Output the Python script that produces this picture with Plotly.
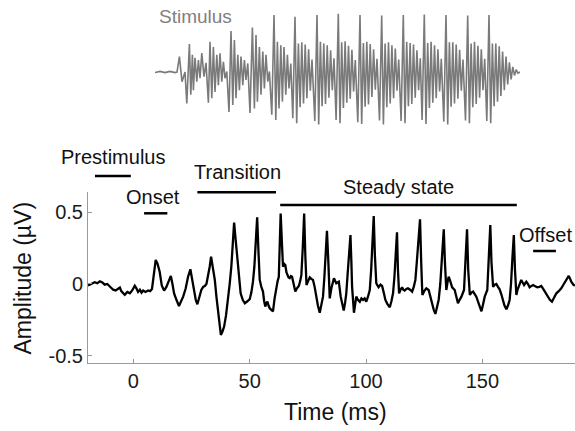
import plotly.graph_objects as go

# ---- Evoked response (grand average), time in ms, amplitude in microvolts ----
resp_t = [
    -19.5, -18.0, -16.6, -15.5, -14.4, -13.3, -12.3, -11.2, -10.1, -9.4, -8.7, -7.6, -6.6, -5.8,
    -5.2, -4.4, -3.7, -2.6, -1.5, -0.5, 0.6, 1.3, 2.0, 2.8, 3.5, 4.2, 5.2, 6.3, 7.2, 8.0, 8.8,
    9.6, 10.4, 11.3, 12.2, 13.2, 14.2, 15.2, 16.1, 16.8, 17.5, 18.5, 19.6, 20.5, 21.4, 22.5,
    23.5, 24.5, 25.3, 26.1, 26.8, 27.5, 28.3, 29.2, 30.0, 30.7, 31.4, 32.1, 32.8, 33.4, 34.2,
    35.0, 35.7, 36.4, 37.0, 37.6, 38.3, 39.0, 39.8, 40.7, 41.4, 42.1, 42.7, 43.3, 44.0, 44.7,
    45.4, 46.1, 47.0, 47.9, 49.0, 50.0, 50.7, 51.4, 52.0, 52.6, 53.2, 53.7, 54.3, 55.0, 55.7,
    56.2, 56.7, 57.2, 57.6, 58.1, 58.6, 59.3, 60.0, 60.7, 61.5, 62.0, 62.5, 62.9, 63.3, 63.8,
    64.3, 64.8, 65.3, 65.8, 66.2, 66.7, 67.2, 67.7, 68.2, 68.9, 69.6, 70.3, 71.1, 71.7, 72.2,
    72.8, 73.4, 73.9, 74.4, 75.1, 75.8, 76.5, 77.2, 77.9, 78.6, 79.3, 80.1, 80.8, 81.5, 82.1,
    82.6, 83.2, 83.8, 84.4, 85.1, 85.8, 86.2, 87.2, 88.3, 89.1, 89.8, 90.4, 91.0, 91.5, 92.0,
    92.6, 93.3, 93.7, 94.0, 94.8, 95.3, 95.8, 96.5, 97.3, 98.0, 98.7, 99.4, 100.1, 100.8,
    101.6, 102.2, 102.7, 103.3, 103.8, 104.4, 104.9, 105.4, 106.2, 106.9, 107.6, 108.3, 109.2,
    110.2, 110.9, 111.6, 112.2, 112.8, 113.3, 113.7, 114.2, 114.8, 115.5, 116.0, 116.6, 117.3,
    118.0, 118.9, 119.8, 120.5, 121.2, 121.8, 122.5, 123.2, 123.7, 124.2, 125.0, 125.9, 126.9,
    127.6, 128.4, 129.1, 129.8, 130.5, 131.2, 131.9, 132.6, 133.4, 133.9, 134.5, 135.0, 135.5,
    136.2, 137.0, 138.1, 138.8, 139.5, 140.2, 141.0, 142.1, 142.7, 143.4, 143.9, 144.6, 145.3,
    146.0, 146.7, 147.4, 148.5, 149.6, 150.3, 151.0, 152.1, 152.7, 153.4, 153.9, 154.6, 155.3,
    156.0, 156.7, 157.4, 158.1, 158.8, 159.5, 160.3, 161.0, 161.7, 162.3, 162.9, 163.5, 164.0,
    164.6, 165.1, 165.6, 166.2, 166.7, 167.3, 167.9, 168.4, 168.9, 169.6, 170.3, 171.0, 171.8,
    172.7, 173.6, 174.5, 175.3, 176.0, 176.8, 177.5, 178.2, 179.0, 179.9, 180.8, 181.8, 182.8,
    183.9, 185.0, 186.1, 186.6, 187.1, 187.6, 188.2, 189.2, 189.8,
]
resp_uv = [
    -0.010, 0.000, 0.012, 0.005, 0.018, 0.010, -0.005, 0.000, -0.020, -0.025, -0.040, -0.045, -0.035, -0.025,
    -0.050, -0.060, -0.075, -0.055, -0.065, -0.045, -0.012, -0.030, -0.055, -0.040, -0.060, -0.045, -0.055, -0.045, -0.050, -0.035, 0.060,
    0.167, 0.140, 0.085, -0.010, -0.046, -0.020, 0.020, 0.056, 0.000, -0.065, -0.110, -0.153, -0.120, -0.088, -0.030,
    0.050, 0.102, 0.030, -0.042, -0.110, -0.141, -0.100, -0.042, -0.020, -0.014, 0.000, 0.050, 0.120, 0.190, 0.120,
    0.028, -0.090, -0.200, -0.300, -0.354, -0.330, -0.296, -0.220, -0.111, 0.000, 0.120, 0.280, 0.426, 0.300, 0.167,
    0.040, -0.065, -0.110, -0.134, -0.120, -0.106, -0.060, 0.016, 0.120, 0.300, 0.463, 0.250, 0.028, -0.020, -0.053,
    -0.120, -0.157, -0.130, -0.123, -0.150, -0.169, -0.180, -0.190, -0.100, -0.007, 0.020, 0.050, 0.250, 0.490, 0.300,
    0.120, 0.140, 0.132, 0.080, 0.056, 0.045, 0.040, 0.055, 0.050, 0.000, -0.053, -0.030, -0.014, 0.020, 0.063,
    0.250, 0.490, 0.200, -0.007, 0.020, 0.046, 0.035, 0.028, -0.020, -0.088, -0.150, -0.200, -0.150, -0.088, 0.050,
    0.200, 0.370, 0.150, -0.100, -0.030, 0.028, 0.040, 0.005, 0.016, -0.088, -0.150, -0.185, -0.130, -0.065, 0.050,
    0.180, 0.340, 0.150, -0.020, -0.200, -0.130, -0.088, -0.110, -0.123, -0.100, -0.111, -0.100, -0.123, -0.090,
    -0.042, 0.100, 0.300, 0.472, 0.200, 0.005, -0.010, -0.023, -0.005, -0.014, -0.060, -0.111, -0.140,
    -0.162, -0.120, -0.065, 0.050, 0.200, 0.359, 0.100, -0.065, -0.040, -0.023, -0.040, -0.046, -0.035,
    -0.030, -0.040, -0.053, -0.020, 0.028, 0.150, 0.300, 0.449, 0.150, -0.076, -0.050, -0.030, -0.042,
    -0.090, -0.134, -0.180, -0.208, -0.160, -0.111, 0.000, 0.200, 0.380, 0.150, -0.042, 0.010, 0.050,
    0.020, -0.023, -0.042, -0.090, -0.134, -0.110, -0.088, -0.042, 0.150, 0.380, 0.100, -0.076, -0.060,
    -0.053, -0.070, -0.088, -0.140, -0.190, -0.140, -0.088, -0.042, 0.200, 0.410, 0.150, -0.020, -0.005,
    0.000, -0.020, -0.037, -0.070, -0.111, -0.150, -0.176, -0.150, -0.111, 0.000, 0.180, 0.340, 0.100,
    -0.076, -0.040, -0.020, 0.010, 0.028, 0.010, -0.007, 0.005, 0.016, 0.000, -0.023, -0.015, -0.007,
    -0.015, -0.023, -0.020, -0.014, -0.030, -0.053, -0.070, -0.088, -0.110, -0.123, -0.100, -0.065, -0.050,
    -0.030, 0.000, 0.033, 0.045, 0.056, 0.040, 0.016, -0.007, -0.010,
]

# ---- Stimulus waveform (normalised pressure), time in ms from stimulus onset ----
stim_t = [
    -12.0, -9.5, -7.0, -4.5, -2.0, -1.0, 0.2, 1.5, 3.0, 3.9, 5.2, 5.9, 6.7, 7.2, 8.0, 8.9, 9.7,
    10.5, 11.4, 12.5, 13.5, 14.7, 15.5, 16.4, 17.2, 18.0, 18.9, 19.7, 20.5, 21.4, 22.2, 23.0,
    23.9, 25.0, 26.0, 26.9, 27.7, 28.5, 29.4, 30.2, 31.0, 31.9, 32.7, 33.5, 34.4, 35.5, 36.7,
    37.7, 38.5, 39.2, 40.2, 41.0, 41.9, 42.7, 43.5, 44.4, 45.2, 46.4, 47.5, 48.4, 49.2, 50.0,
    50.9, 51.7, 52.5, 53.4, 54.2, 55.0, 55.9, 56.9, 58.0,
    58.85, 59.7, 60.55, 61.4, 62.25, 63.1, 63.95, 64.8, 65.65, 66.5, 67.9, 69.0,
    69.85, 70.7, 71.55, 72.4, 73.25, 74.1, 74.95, 75.8, 76.65, 77.5, 78.55, 79.65,
    80.5, 81.35, 82.2, 83.05, 83.9, 84.75, 85.6, 86.45, 87.3, 88.15, 89.4, 90.5,
    91.35, 92.2, 93.05, 93.9, 94.75, 95.6, 96.45, 97.3, 98.15, 99.0, 100.25, 101.35,
    102.2, 103.05, 103.9, 104.75, 105.6, 106.45, 107.3, 108.15, 109.0, 109.85, 111.05, 112.15,
    113.0, 113.85, 114.7, 115.55, 116.4, 117.25, 118.1, 118.95, 119.8, 120.65, 121.55, 122.65,
    123.5, 124.35, 125.2, 126.05, 126.9, 127.75, 128.6, 129.45, 130.3, 131.15, 132.4, 133.5,
    134.35, 135.2, 136.05, 136.9, 137.75, 138.6, 139.45, 140.3, 141.15, 142.0, 143.25, 144.35,
    145.2, 146.05, 146.9, 147.75, 148.6, 149.45, 150.3, 151.15, 152.0, 152.85, 153.9, 155.0,
    155.85, 156.7, 157.55, 158.4, 159.25, 160.1, 160.95, 161.8, 162.65, 163.5, 164.35, 165.2,
    166.05, 166.9, 167.75, 168.6, 169.45, 170.5,
]
stim_amp = [
    -0.01, 0.01, -0.01, 0.01, -0.01, 0.00, 0.27, -0.17, 0.00, -0.55, 0.49, -0.40, 0.30, -0.32, 0.25, -0.17, 0.21,
    -0.11, 0.33, -0.08, 0.16, -0.54, 0.53, -0.46, 0.44, -0.35, 0.30, -0.23, 0.33, -0.17, 0.18, -0.11,
    0.01, -0.70, 0.72, -0.58, 0.56, -0.46, 0.30, -0.32, 0.27, -0.23, 0.21, -0.14, 0.15, -0.72, 0.78,
    -0.64, 0.65, -0.52, 0.44, -0.40, 0.36, -0.29, 0.30, -0.17, 0.01, -0.75, 1.00, -0.84, 0.53, -0.64,
    0.47, -0.52, 0.44, -0.40, 0.30, -0.29, 0.15, -0.81, 0.97,
    -0.90, 0.50, -0.62, 0.52, -0.55, 0.48, -0.46, 0.40, -0.33, 0.22, -0.86, 1.00,
    -0.92, 0.53, -0.60, 0.50, -0.56, 0.47, -0.45, 0.38, -0.32, 0.24, -0.84, 1.02,
    -0.90, 0.52, -0.63, 0.54, -0.54, 0.46, -0.47, 0.39, -0.34, 0.21, -0.88, 1.00,
    -0.91, 0.51, -0.61, 0.53, -0.57, 0.49, -0.44, 0.40, -0.31, 0.23, -0.85, 0.99,
    -0.92, 0.50, -0.62, 0.52, -0.55, 0.47, -0.46, 0.41, -0.33, 0.22, -0.86, 1.00,
    -0.90, 0.53, -0.60, 0.51, -0.56, 0.48, -0.45, 0.38, -0.32, 0.24, -0.84, 1.01,
    -0.91, 0.51, -0.63, 0.53, -0.54, 0.47, -0.46, 0.40, -0.34, 0.23, -0.87, 1.00,
    -0.92, 0.52, -0.61, 0.52, -0.55, 0.48, -0.47, 0.39, -0.33, 0.22, -0.85, 0.99,
    -0.90, 0.50, -0.62, 0.53, -0.56, 0.46, -0.45, 0.40, -0.32, 0.23, -0.86, 1.00,
    -0.90, 0.50, -0.60, 0.50, -0.52, 0.45, -0.42, 0.36, -0.32, 0.27, -0.22, 0.17,
    -0.13, 0.09, -0.06, 0.04, -0.02, 0.00,
]

# ---- Response epochs: label, start (ms), end (ms) ----
epoch_names = ["Prestimulus", "Onset", "Transition", "Steady state", "Offset"]
epoch_start = [-16.5, 4.6, 27.5, 63.1, 171.8]
epoch_end = [-1.1, 14.6, 61.3, 164.8, 181.6]

x_ticks = [0, 50, 100, 150]
y_ticks = [-0.5, 0, 0.5]
y_tick_text = ["-0.5", "0", "0.5"]

FONT = "Arial, Liberation Sans, sans-serif"
W, H = 575, 431
M_L, M_B = 88, 68
PLOT_H = H - M_B
PLOT_W = W - M_L


def px(x):
    return (x - M_L) / PLOT_W


def py(y):
    return (PLOT_H - y) / PLOT_H


fig = go.Figure()

fig.add_trace(go.Scatter(
    x=stim_t, y=stim_amp, mode="lines", xaxis="x2", yaxis="y2",
    line=dict(color="#7a7a7a", width=1.6), hoverinfo="skip", showlegend=False,
))
fig.add_trace(go.Scatter(
    x=resp_t, y=resp_uv, mode="lines",
    line=dict(color="black", width=2.3), showlegend=False,
))

axis_common = dict(
    showline=True, linecolor="#9a9a9a", linewidth=1,
    ticks="inside", ticklen=4, tickcolor="#9a9a9a",
    showgrid=False, zeroline=False,
    tickfont=dict(family=FONT, size=20, color="#1a1a1a"),
)

fig.update_layout(
    width=W, height=H,
    margin=dict(l=M_L, r=0, t=0, b=M_B),
    paper_bgcolor="white", plot_bgcolor="white",
    font=dict(family=FONT, color="black"),
    xaxis=dict(range=[-19.5, 189.8], tickvals=x_ticks, domain=[0, 1], **axis_common),
    yaxis=dict(range=[-0.549, 0.639], tickvals=y_ticks, ticktext=y_tick_text,
               domain=[0, py(192)], **axis_common),
    xaxis2=dict(range=[-12, 170.5], domain=[px(155), px(520)], anchor="y2",
                visible=False, fixedrange=True),
    yaxis2=dict(range=[-1.105, 1.175], domain=[py(135), py(5)], anchor="x2",
                visible=False, fixedrange=True),
)

# epoch bars and their labels
label_pos = [(113, 157), (153, 197), (237.5, 172), (398, 187), (545.5, 235)]
bar_y = [176, 213.3, 192.3, 205, 251]
for name, t0, t1, (lx, ly), by in zip(epoch_names, epoch_start, epoch_end, label_pos, bar_y):
    fig.add_shape(type="line", xref="x", yref="paper", x0=t0, x1=t1,
                  y0=py(by), y1=py(by), line=dict(color="black", width=2.5))
    fig.add_annotation(text=name, xref="paper", yref="paper", x=px(lx), y=py(ly),
                       xanchor="center", yanchor="middle", showarrow=False,
                       font=dict(family=FONT, size=20, color="#111111"))

fig.add_annotation(text="Stimulus", xref="paper", yref="paper", x=px(195.5), y=py(16),
                   xanchor="center", yanchor="middle", showarrow=False,
                   font=dict(family=FONT, size=19, color="#808080"))
fig.add_annotation(text="Time (ms)", xref="paper", yref="paper", x=px(335), y=py(412),
                   xanchor="center", yanchor="middle", showarrow=False,
                   font=dict(family=FONT, size=23, color="#111111"))
fig.add_annotation(text="Amplitude (µV)", xref="paper", yref="paper", x=px(22.5), y=py(278),
                   xanchor="center", yanchor="middle", showarrow=False, textangle=-90,
                   font=dict(family=FONT, size=23, color="#111111"))

fig.write_html("out.html")
